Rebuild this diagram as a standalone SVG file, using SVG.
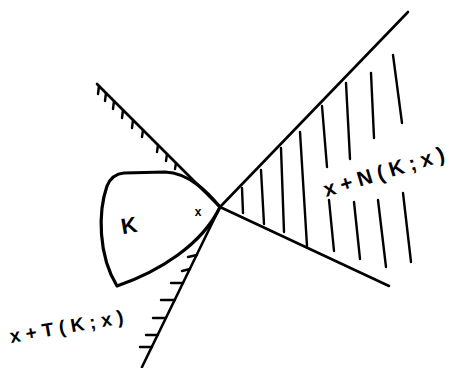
<svg xmlns="http://www.w3.org/2000/svg" width="462" height="368" viewBox="0 0 462 368">
<style>
.ln{fill:none;stroke:#000;stroke-width:2.6;stroke-linecap:round;stroke-linejoin:round}
.th{fill:none;stroke:#000;stroke-width:3.2;stroke-linecap:round;stroke-linejoin:round}
.tk{fill:none;stroke:#000;stroke-width:2.4;stroke-linecap:round}
.hz{fill:none;stroke:#000;stroke-width:2.4;stroke-linecap:round}
.lab{font-family:"Liberation Sans",Arial,sans-serif;font-weight:bold;fill:#000}
</style>
<rect width="462" height="368" fill="#fff"/>
<g id="normal-cone">
<path class="ln" d="M220,207 L408,12"/>
<path class="ln" d="M220,207 L389,286"/>
<g id="normal-hatching">
<path class="hz" d="M242,188 L243,213"/>
<path class="hz" d="M261,170 L264,224"/>
<path class="hz" d="M281,148 L284,232"/>
<path class="hz" d="M300,132 L307,246"/>
<path class="hz" d="M322,106 L327,167"/>
<path class="hz" d="M329,200 L334,251"/>
<path class="hz" d="M346,83 L350,159"/>
<path class="hz" d="M354,202 L360,259"/>
<path class="hz" d="M371,73 L374,138"/>
<path class="hz" d="M378,200 L386,267"/>
<path class="hz" d="M393,55 L402,123"/>
<path class="hz" d="M403,193 L411,262"/>
</g>
</g>
<g id="tangent-cone">
<path class="ln" d="M97,84 L220,207"/>
<path class="ln" d="M220,207 L142,367"/>
<g id="tangent-ticks">
<path class="tk" d="M99,86 L98,94"/>
<path class="tk" d="M106,93 L105,101"/>
<path class="tk" d="M114,101 L113,109"/>
<path class="tk" d="M123,110 L122,118"/>
<path class="tk" d="M133,120 L132,128"/>
<path class="tk" d="M143,130 L142,137"/>
<path class="tk" d="M158,145 L157,152"/>
<path class="tk" d="M167,154 L166,161"/>
<path class="tk" d="M176,163 L175,169"/>
<path class="tk" d="M197,255 L188,257"/>
<path class="tk" d="M190,269 L182,271"/>
<path class="tk" d="M183,283 L171,283"/>
<path class="tk" d="M175,300 L161,300"/>
<path class="tk" d="M166,318 L153,318"/>
<path class="tk" d="M158,335 L146,335"/>
<path class="tk" d="M152,347 L140,347"/>
</g>
</g>
<g id="set-K">
<path class="th" d="M220,207 C208,193 190,173 165,172 L124,173 Q112,174 107,186 C98,212 98,255 117,286 C158,272 202,245 220,207 Z"/>
<text class="lab" x="129" y="233" font-size="22" text-anchor="middle" transform="rotate(-10 129 225)">K</text>
<text class="lab" x="198" y="216" font-size="12" text-anchor="middle">x</text>
</g>
<g id="labels">
<text class="lab" x="326" y="197" font-size="21" letter-spacing="5.5" transform="rotate(-17 326 197)">x+N(K;x)</text>
<text class="lab" x="11" y="343" font-size="19" letter-spacing="5.5" transform="rotate(-10 11 343)">x+T(K;x)</text>
</g>
</svg>
